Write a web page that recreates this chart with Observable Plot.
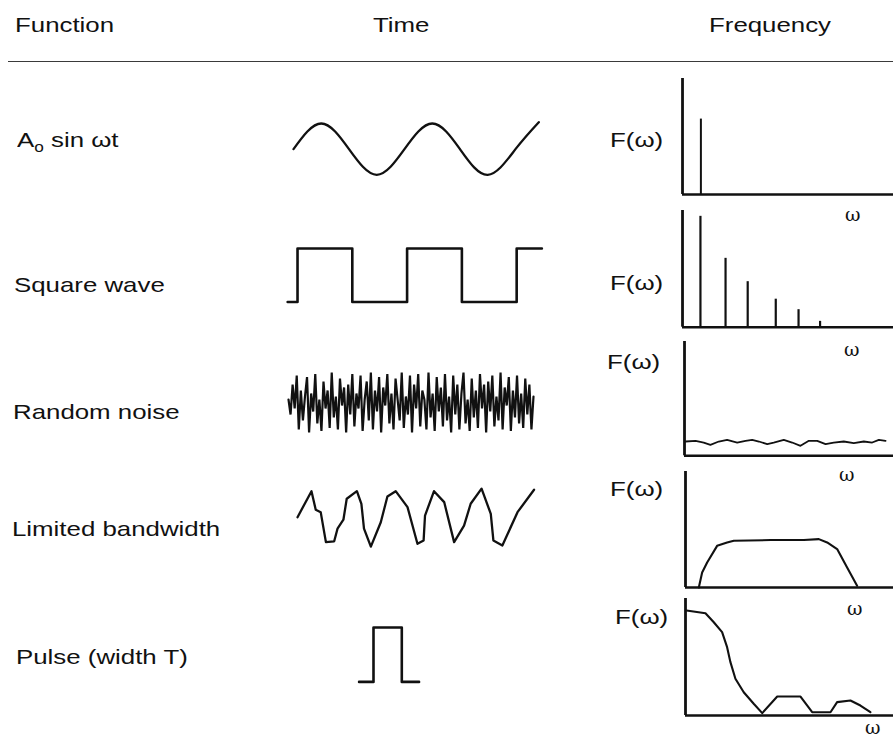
<!DOCTYPE html>
<html><head><meta charset="utf-8">
<script src="https://cdn.jsdelivr.net/npm/d3@7"></script>
<script src="https://cdn.jsdelivr.net/npm/@observablehq/plot@0.6"></script>
<style>
html,body{margin:0;padding:0;background:#fff;}
#fig{position:relative;width:893px;height:738px;overflow:hidden;background:#fff;font-family:"Liberation Sans",Arial,Helvetica,sans-serif;color:#111;}
.lbl{position:absolute;font-size:21px;line-height:24px;white-space:nowrap;transform:scaleX(1.23);transform-origin:left center;}
.lbl sub{font-size:14px;vertical-align:-5px;line-height:0;}
.om{position:absolute;font-family:"DejaVu Serif","Liberation Serif",serif;font-size:19px;line-height:16px;}
.rule{position:absolute;border-top:1.6px solid #3a3a3a;height:0;}
</style></head><body><div id="fig"></div><script>
// ---------- data ----------
const headers = ["Function", "Time", "Frequency"];
const rowLabels = ["A<sub>o</sub> sin ωt", "Square wave", "Random noise", "Limited bandwidth", "Pulse (width T)"];
const freqLabel = "F(ω)";
const omegaLabel = "ω";

// sine: time in periods, amplitude
const sineT = [0, 0.25, 0.5, 0.75, 1, 1.25, 1.5, 1.75, 2, 2.21];
const sineV = [0, 1, 0, -1, 0, 1, 0, -1, 0, 1.05];

// square wave: time in half-periods, level
const squareT = [-0.18, 0, 1, 2, 3, 4, 4.46];
const squareV = [0, 1, 0, 1, 0, 1, 1];

// random noise
const noiseV = [0.1,-0.4,0.6,-0.2,0.9,-0.9,0.4,-0.6,0.2,0.85,-1,0.3,-0.3,0.95,-0.7,0.1,-0.95,0.7,-0.2,0.4,
  -0.85,1,-0.5,0.2,-0.9,0.8,-0.1,0.5,-1,0.6,-0.4,0.95,-0.8,0.3,-0.2,0.9,-0.95,0.1,0.7,-0.6,
  1,-0.9,0.4,-0.3,0.85,-1,0.5,-0.1,0.95,-0.7,0.3,-0.9,0.8,0.1,-0.6,1,-0.85,0.2,-0.4,0.9,
  -1,0.6,-0.2,0.95,-0.8,0.4,0.1,-0.9,1,-0.5,0.3,-0.95,0.85,-0.3,0.5,-0.8,0.95,-0.6,0.2,-1,
  0.9,-0.4,0.6,-0.9,0.3,1,-0.7,0.1,-0.95,0.8,-0.5,0.4,-0.85,0.95,-0.2,0.6,-1,0.7,-0.3,0.9,
  -0.8,0.2,-0.6,1,-0.9,0.5,-0.1,0.85,-0.95,0.4,-0.5,0.9,-0.7,0.3,-0.85,0.8,-0.4,0.6,-0.9,0.2];

// limited bandwidth signal
const bwT = [0,5.9,7.7,9.8,12.0,15.5,16.9,19.4,20.8,25.1,27.0,28.1,31.0,35.2,38.0,41.5,46.5,50.7,53.3,53.9,57.7,62.0,66.2,70.4,73.2,77.8,81.7,82.8,86.6,93.0,100];
const bwV = [0.01,0.94,0.28,0.19,-0.88,-0.85,-0.40,-0.08,0.67,0.94,0.49,-0.40,-1.04,-0.17,0.75,0.94,0.37,-0.94,-0.82,0.07,0.94,0.55,-0.88,-0.29,0.49,1.03,0.13,-0.82,-1.0,0.19,0.99];

// pulse
const pulseT = [-0.51, 0, 0, 1, 1, 1.61];
const pulseV = [0, 0, 1, 1, 0, 0];

// spectra (omega in 0..10 along the axis, magnitude 0..1 of axis height)
const sineSpikeW = [0.87];
const sineSpikeA = [0.65];
const squareSpikeW = [0.85, 2.04, 3.09, 4.42, 5.5, 6.52];
const squareSpikeA = [0.95, 0.59, 0.39, 0.24, 0.15, 0.05];
const noiseSpecW = [0.05,0.53,0.92,1.24,1.64,2.04,2.52,2.92,3.24,3.56,3.96,4.27,4.75,5.15,5.55,5.95,6.35,6.75,7.14,7.62,8.10,8.58,8.98,9.30,9.62];
const noiseSpecA = [0.125,0.131,0.116,0.096,0.125,0.140,0.116,0.131,0.140,0.125,0.102,0.116,0.140,0.116,0.087,0.131,0.131,0.102,0.116,0.125,0.111,0.125,0.116,0.140,0.131];
const bwSpecW = [0.64,0.80,1.04,1.52,2.00,2.32,4.09,5.69,6.41,6.81,7.29,7.77,8.25];
const bwSpecA = [0,0.129,0.216,0.359,0.388,0.403,0.409,0.409,0.417,0.388,0.331,0.172,0.015];
const pulseSpecW = [0.05,0.96,1.36,1.76,2.00,2.16,2.40,2.80,3.28,3.69,4.41,5.53,6.09,6.97,7.29,7.93,8.41,8.89];
const pulseSpecA = [0.897,0.874,0.797,0.712,0.584,0.456,0.314,0.199,0.100,0.020,0.162,0.162,0.028,0.028,0.114,0.128,0.085,0.028];

// ---------- layout ----------
const fig = document.getElementById("fig");
const zip = (a, b) => a.map((x, i) => ({x, y: b[i]}));

function addText(html, left, cy, cls = "lbl") {
  const d = document.createElement("div");
  d.className = cls;
  d.innerHTML = html;
  d.style.left = left + "px";
  d.style.top = (cy - (cls === "om" ? 8 : 12)) + "px";
  fig.append(d);
}

const M = 6;
function panel(box, xd, yd, marks) {
  const [px0, px1, pyb, pyt] = box;
  const w = px1 - px0 + 2 * M, h = pyb - pyt + 2 * M;
  const svg = Plot.plot({
    width: w, height: h, margin: M,
    x: {domain: xd, axis: null},
    y: {domain: yd, axis: null},
    style: {background: "transparent", overflow: "visible"},
    marks
  });
  svg.style.position = "absolute";
  svg.style.left = (px0 - M) + "px";
  svg.style.top = (pyt - M) + "px";
  svg.style.maxWidth = "none";
  fig.append(svg);
}

// header
addText(headers[0], 15, 25);
addText(headers[1], 373, 25);
addText(headers[2], 709, 25);
const r = document.createElement("div");
r.className = "rule"; r.style.left = "8px"; r.style.width = "885px"; r.style.top = "61px";
fig.append(r);

// row labels
const labelPos = [[17, 140], [14, 285], [13, 412], [12, 529], [16, 657]];
rowLabels.forEach((t, i) => addText(t, labelPos[i][0], labelPos[i][1]));

// time panels
const ink = "#111";
panel([292.7, 538, 174, 122.7], [0, 2.21], [-1, 1],
  [Plot.line(zip(sineT, sineV), {x: "x", y: "y", curve: "natural", stroke: ink, strokeWidth: 2.3})]);
panel([297.3, 516.5, 301.5, 248], [0, 4], [0, 1],
  [Plot.line(zip(squareT, squareV), {x: "x", y: "y", curve: "step-after", stroke: ink, strokeWidth: 2.6})]);
panel([288, 533, 432, 372], [0, noiseV.length - 1], [-1, 1],
  [Plot.line(noiseV, {x: (d, i) => i, y: d => d, stroke: ink, strokeWidth: 2.2, strokeLinejoin: "miter"})]);
panel([296.7, 533.3, 545, 489], [0, 100], [-1, 1],
  [Plot.line(zip(bwT, bwV), {x: "x", y: "y", stroke: ink, strokeWidth: 2.3})]);
panel([372.7, 401, 681.7, 627.3], [0, 1], [0, 1],
  [Plot.line(zip(pulseT, pulseV), {x: "x", y: "y", stroke: ink, strokeWidth: 2.6})]);

// frequency panels
function axes() {
  return [
    Plot.ruleX([0], {y1: 0, y2: 1, stroke: ink, strokeWidth: 2.8}),
    Plot.ruleY([0], {x1: 0, x2: 10, stroke: ink, strokeWidth: 2.4})
  ];
}
panel([681.7, 893, 194.3, 78.3], [0, 10], [0, 1], [
  ...axes(),
  Plot.ruleX(zip(sineSpikeW, sineSpikeA), {x: "x", y1: 0, y2: "y", stroke: ink, strokeWidth: 2})
]);
panel([682, 893, 326.7, 210], [0, 10], [0, 1], [
  ...axes(),
  Plot.ruleX(zip(squareSpikeW, squareSpikeA), {x: "x", y1: 0, y2: "y", stroke: ink, strokeWidth: 2.2})
]);
panel([684, 893, 455, 340.7], [0, 10], [0, 1], [
  ...axes(),
  Plot.line(zip(noiseSpecW, noiseSpecA), {x: "x", y: "y", stroke: ink, strokeWidth: 1.8})
]);
panel([685, 893, 586.7, 470.7], [0, 10], [0, 1], [
  ...axes(),
  Plot.line(zip(bwSpecW, bwSpecA), {x: "x", y: "y", stroke: ink, strokeWidth: 2.1})
]);
panel([685, 893, 715, 598], [0, 10], [0, 1], [
  ...axes(),
  Plot.line(zip(pulseSpecW, pulseSpecA), {x: "x", y: "y", stroke: ink, strokeWidth: 2.1})
]);

// F(ω) and ω labels
const fPos = [[610, 140], [610, 283], [607, 362], [610, 489], [615, 617]];
fPos.forEach(([x, y]) => addText(freqLabel, x, y));
const wPos = [[845, 214], [844, 349], [839, 474], [847, 608], [865, 727]];
wPos.forEach(([x, y]) => addText(omegaLabel, x, y, "om"));
</script></body></html>
